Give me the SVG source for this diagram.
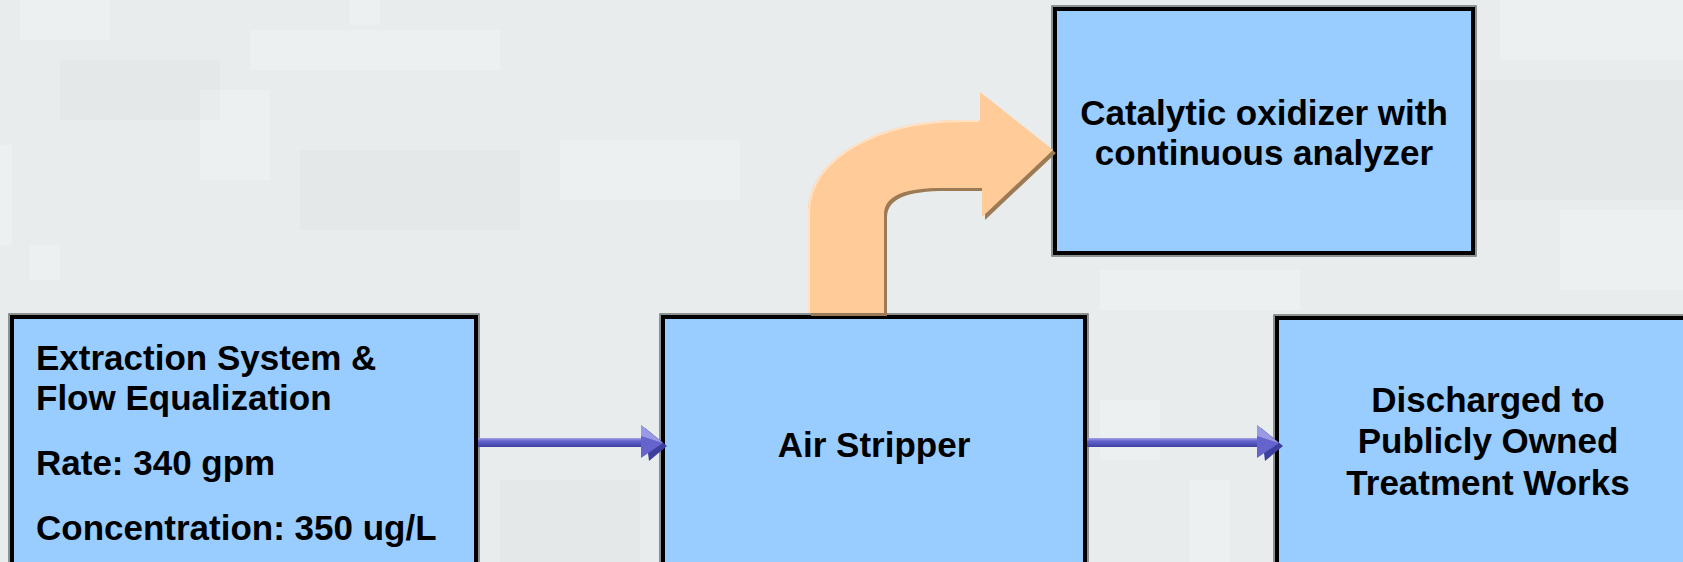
<svg xmlns="http://www.w3.org/2000/svg" width="1683" height="562" viewBox="0 0 1683 562">
  <style>
    .box { fill: #99ccff; stroke: #000000; stroke-width: 4; }
    .boxshadow { fill: none; stroke: #6f7474; stroke-width: 1.5; }
    .lbl { font-family: "Liberation Sans", Arial, Helvetica, sans-serif; font-weight: bold; font-size: 35px; fill: #000000; }
    .mid { text-anchor: middle; }
    .tex { fill: #ffffff; opacity: 0.22; }
    .texd { fill: #d8dede; opacity: 0.2; }
  </style>
  <defs>
    <linearGradient id="shaftGrad" x1="0" y1="0" x2="0" y2="1">
      <stop offset="0" stop-color="#a4a4e8"/>
      <stop offset="0.35" stop-color="#6262cc"/>
      <stop offset="0.7" stop-color="#5050bb"/>
      <stop offset="1" stop-color="#3e3e9e"/>
    </linearGradient>
  </defs>

  <!-- background -->
  <rect x="0" y="0" width="1683" height="562" fill="#e8ecec"/>
  <g id="texture">
    <rect class="tex" x="20" y="0" width="90" height="40"/>
    <rect class="tex" x="350" y="0" width="30" height="25"/>
    <rect class="tex" x="0" y="145" width="12" height="100"/>
    <rect class="tex" x="30" y="245" width="30" height="35"/>
    <rect class="tex" x="200" y="90" width="70" height="90"/>
    <rect class="tex" x="250" y="30" width="250" height="40"/>
    <rect class="texd" x="60" y="60" width="160" height="60"/>
    <rect class="tex" x="560" y="140" width="180" height="60"/>
    <rect class="texd" x="300" y="150" width="220" height="80"/>
    <rect class="tex" x="1100" y="270" width="200" height="40"/>
    <rect class="tex" x="1500" y="0" width="183" height="60"/>
    <rect class="texd" x="1480" y="80" width="203" height="120"/>
    <rect class="tex" x="1560" y="210" width="123" height="80"/>
    <rect class="tex" x="1190" y="480" width="40" height="82"/>
    <rect class="tex" x="1100" y="400" width="60" height="60"/>
    <rect class="texd" x="500" y="480" width="140" height="82"/>
    <rect class="tex" x="940" y="420" width="120" height="40"/>
  </g>

  <!-- nodes -->
  <g id="node-extraction">
    <rect class="boxshadow" x="9" y="314" width="470" height="260"/>
    <rect class="box" x="12" y="317" width="464" height="260"/>
    <text class="lbl" x="36" y="370">Extraction System &amp;</text>
    <text class="lbl" x="36" y="410">Flow Equalization</text>
    <text class="lbl" x="36" y="475">Rate: 340 gpm</text>
    <text class="lbl" x="36" y="540">Concentration: 350 ug/L</text>
  </g>

  <g id="node-airstripper">
    <rect class="boxshadow" x="660" y="314" width="428" height="260"/>
    <rect class="box" x="663" y="317" width="422" height="260"/>
    <text class="lbl mid" x="874" y="457">Air Stripper</text>
  </g>

  <g id="node-discharge">
    <rect class="boxshadow" x="1274" y="315" width="428" height="260"/>
    <rect class="box" x="1277" y="318" width="422" height="260"/>
    <text class="lbl mid" x="1488" y="412">Discharged to</text>
    <text class="lbl mid" x="1488" y="453">Publicly Owned</text>
    <text class="lbl mid" x="1488" y="495">Treatment Works</text>
  </g>

  <g id="node-oxidizer">
    <rect class="boxshadow" x="1052" y="6" width="424" height="250"/>
    <rect class="box" x="1055" y="9" width="418" height="244"/>
    <text class="lbl mid" x="1264" y="125">Catalytic oxidizer with</text>
    <text class="lbl mid" x="1264" y="165">continuous analyzer</text>
  </g>

  <!-- connectors -->
  <g id="connectors">
    <!-- extraction to air stripper -->
    <g id="conn-1">
      <rect x="478" y="438" width="168" height="9" fill="url(#shaftGrad)"/>
      <polygon points="645,428 667,446 649,461" fill="#3e3e9e"/>
      <polygon points="641,425 663,443 641,458" fill="#6464cc"/>
      <polygon points="641,425 663,443 641,436" fill="#9a9ae4"/>
    </g>
    <!-- air stripper to discharge -->
    <g id="conn-2">
      <rect x="1087" y="438" width="173" height="9" fill="url(#shaftGrad)"/>
      <polygon points="1261,428 1283,446 1265,461" fill="#3e3e9e"/>
      <polygon points="1257,425 1279,443 1257,458" fill="#6464cc"/>
      <polygon points="1257,425 1279,443 1257,436" fill="#9a9ae4"/>
    </g>
    <!-- air stripper to oxidizer (curved block arrow) -->
    <g id="conn-3">
      <path d="M811,316 L811,215 C811,160 883,123 963,123 L983,123 L983,95 L1056,153 L985,220 L985,191 L946,191 C908,191 887,198 887,218 L887,316 Z" fill="#9b7a55"/>
      <path d="M808,313 L808,212 C808,157 880,120 960,120 L980,120 L980,92 L1053,150 L982,217 L982,188 L943,188 C905,188 884,195 884,215 L884,313 Z" fill="#ffcc99"/>
      <path d="M809,313 L809,212 C809,158 880,121 960,121 L979,121" fill="none" stroke="#ffe2c6" stroke-width="2"/>
    </g>
  </g>
</svg>
